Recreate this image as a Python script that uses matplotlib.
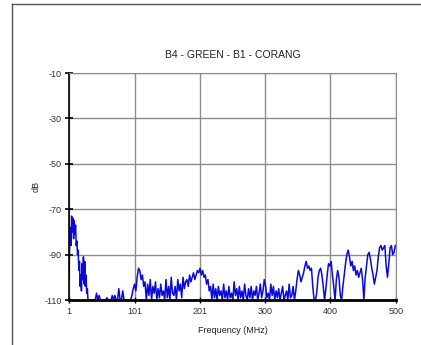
import numpy as np
import matplotlib
matplotlib.use("Agg")
import matplotlib.pyplot as plt
from matplotlib.lines import Line2D

plt.rcParams['font.family'] = ['Liberation Sans', 'DejaVu Sans']
plt.rcParams['axes.unicode_minus'] = False

# frequency samples (MHz): every 1 MHz up to 30, then every 2 MHz
freq = np.concatenate([np.arange(1, 31), np.arange(31, 501, 2)])

level = [
    -100, -84, -78, -86, -73, -80, -74, -83, -75, -81,
    -77, -86, -84, -90, -88, -97, -93, -104, -99, -106,
    -94, -101, -91, -103, -93, -104, -99, -107, -105, -110,
    -110, -110, -110, -110, -110,
    -110, -107, -110, -108, -110, -110, -110, -110, -110, -109,
    -110, -110, -110, -108, -110, -108, -110, -110, -105, -110,
    -110, -106, -110, -110, -110, -110, -110, -110, -108, -105,
    -103, -106, -100, -96, -97, -101, -99, -104, -102, -110,
    -103, -108, -101, -110, -104, -107, -102, -110, -105, -109,
    -103, -108, -106, -110, -101, -109, -104, -110, -100, -107,
    -108, -104, -110, -101, -106, -103, -109, -100, -105, -102,
    -101, -104, -99, -102, -100, -98, -101, -99, -97, -98,
    -96, -99, -97, -100, -99, -103, -101, -106, -104, -110,
    -103, -109, -105, -110, -104, -108, -106, -110, -103, -109,
    -106, -110, -104, -109, -107, -110, -102, -108, -105, -110,
    -104, -109, -106, -110, -103, -108, -110, -105, -109, -104,
    -110, -106, -108, -104, -110, -107, -103, -109, -106, -101,
    -104, -109, -107, -110, -103, -108, -104, -110, -106, -109,
    -105, -110, -107, -104, -110, -108, -106, -110, -103, -109,
    -108, -104, -110, -106, -101, -97, -99, -102, -100, -98,
    -95, -93, -96, -95, -97, -96, -104, -110, -110, -107,
    -100, -97, -96, -99, -104, -110, -105, -99, -94, -95,
    -93, -99, -104, -110, -101, -97, -100, -108, -110, -104,
    -99, -94, -90, -88, -91, -95, -93, -97, -95, -99,
    -97, -100, -98, -96, -101, -110, -100, -95, -90, -89,
    -92, -96, -99, -103, -100, -97, -91, -87, -86, -88,
    -87, -86, -95, -100, -94, -87, -86, -90, -89, -86,
]

x_ticks = [1, 101, 201, 300, 400, 500]
y_ticks = [-110, -90, -70, -50, -30, -10]

fig = plt.figure(figsize=(4.21, 3.45), dpi=100)
ax = fig.add_axes([0.1639, 0.1304, 0.7767, 0.658])

ax.plot(freq, level, color='#0a0ad8', linewidth=1.1)

ax.set_xlim(1, 500)
ax.set_ylim(-110, -10)
ax.set_xticks(x_ticks)
ax.set_yticks(y_ticks)
ax.grid(True, color='#8c8c8c', linewidth=1.0)
ax.set_axisbelow(True)

for side in ['top', 'right']:
    ax.spines[side].set_color('#8c8c8c')
ax.spines['left'].set_color('black')
ax.spines['left'].set_linewidth(1.2)
ax.spines['bottom'].set_color('black')
ax.spines['bottom'].set_linewidth(2.0)
ax.spines['bottom'].set_zorder(5)

ax.tick_params(axis='y', direction='inout', length=6, width=1.2, labelsize=6.5,
               labelcolor='#333333', pad=2)
ax.tick_params(axis='x', direction='inout', length=4, width=1.0, labelsize=6.5,
               labelcolor='#333333', pad=3)

ax.set_title("B4 - GREEN - B1 - CORANG", fontsize=7.5, color='#222222', pad=11)
ax.set_xlabel("Frequency (MHz)", fontsize=6.5, color='#222222', labelpad=7)
ax.set_ylabel("dB", fontsize=6.5, color='#222222', labelpad=3)

# page frame
fig.add_artist(Line2D([12 / 421, 1.0], [1 - 4 / 345, 1 - 4 / 345], color='#555555', linewidth=1.0))
fig.add_artist(Line2D([12 / 421, 12 / 421], [0.0, 1 - 4 / 345], color='#555555', linewidth=1.0))

fig.savefig("out.png", dpi=100)
